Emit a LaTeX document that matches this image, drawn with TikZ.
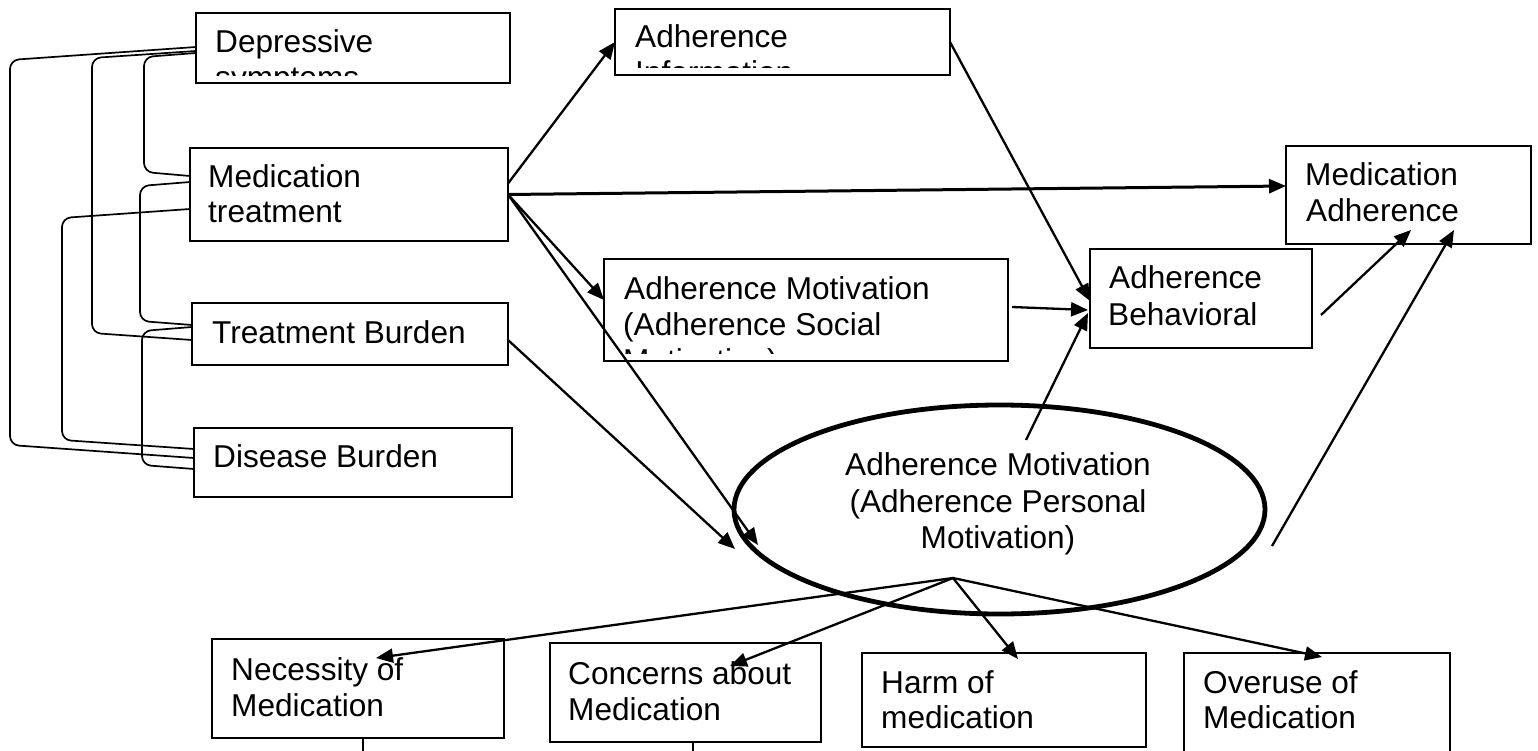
\documentclass[tikz,border=0pt]{standalone}
\usepackage{fontspec}
\setmainfont{Liberation Sans}
\usetikzlibrary{arrows.meta,calc,shapes.geometric}
\begin{document}
\begin{tikzpicture}[x=1pt,y=-1pt,
  box/.style={draw, line width=1.5pt, rectangle, inner sep=0pt, outer sep=0pt, anchor=north west},
  lbl/.style={anchor=base west, inner sep=0pt, font=\fontsize{31.6}{36}\selectfont},
  clbl/.style={anchor=base, inner sep=0pt, font=\fontsize{31.6}{36}\selectfont},
  arr/.style={line width=2.3pt, -{Triangle[length=17pt,width=14pt]}},
  brk/.style={line width=1.7pt, rounded corners=9pt},
  stub/.style={line width=1.7pt}]
\clip (0,0) rectangle (1538,751);
\fill[white] (0,0) rectangle (1538,751);

% boxes
\node[box, minimum width=314pt, minimum height=70pt] (dep) at (196,13) {};
\node[box, minimum width=318pt, minimum height=93pt] (medt) at (190,148) {};
\node[box, minimum width=316pt, minimum height=62pt] (tb) at (192,303) {};
\node[box, minimum width=318pt, minimum height=69pt] (db) at (194,428) {};
\node[box, minimum width=335pt, minimum height=66pt] (ainfo) at (615,9) {};
\node[box, minimum width=404pt, minimum height=102pt] (soc) at (604,259) {};
\node[box, minimum width=222pt, minimum height=99pt] (beh) at (1090,249) {};
\node[box, minimum width=245pt, minimum height=98pt] (madh) at (1286,146) {};
\node[box, minimum width=292pt, minimum height=99pt] (nec) at (212,639) {};
\node[box, minimum width=271pt, minimum height=99pt] (con) at (550,643) {};
\node[box, minimum width=284pt, minimum height=94pt] (harm) at (862,653) {};
\node[box, minimum width=266pt, minimum height=130pt] (over) at (1184,653) {};
\node[draw, ellipse, line width=4.8pt, minimum width=531pt, minimum height=209pt, inner sep=0pt] (ell) at (999.5,509.5) {};

% texts
\begin{scope}
\clip (dep.north west) rectangle ($(dep.south east)+(0,-7.5)$);
\node[lbl] (dep1) at (215,53) {Depressive};
\node[lbl] (dep2) at (215,89) {symptoms};
\end{scope}
\node[lbl] (medt1) at (208,188) {Medication};
\node[lbl] (medt2) at (208,223) {treatment};
\node[lbl] (tb1) at (212,343) {Treatment Burden};
\node[lbl] (db1) at (213,467) {Disease Burden};
\begin{scope}
\clip (ainfo.north west) rectangle ($(ainfo.south east)+(0,-7.5)$);
\node[lbl] (ainfo1) at (635,48) {Adherence};
\node[lbl] (ainfo2) at (635,84) {Information};
\end{scope}
\begin{scope}
\clip (soc.north west) rectangle ($(soc.south east)+(0,-8)$);
\node[lbl] (soc1) at (624,299) {Adherence Motivation};
\node[lbl] (soc2) at (623,335) {(Adherence Social};
\node[lbl] (soc3) at (623,371) {Motivation)};
\end{scope}
\node[lbl] (beh1) at (1109,288) {Adherence};
\node[lbl] (beh2) at (1108,325) {Behavioral};
\node[lbl] (madh1) at (1305,186) {Medication};
\node[lbl] (madh2) at (1306,222) {Adherence};
\node[clbl] (ell1) at (998,475) {Adherence Motivation};
\node[clbl] (ell2) at (998,512) {(Adherence Personal};
\node[clbl] (ell3) at (998,548) {Motivation)};
\node[lbl] (nec1) at (231,680) {Necessity of};
\node[lbl] (nec2) at (231,716) {Medication};
\node[lbl] (con1) at (568,684) {Concerns about};
\node[lbl] (con2) at (568,720) {Medication};
\node[lbl] (harm1) at (881,693) {Harm of};
\node[lbl] (harm2) at (881,728) {medication};
\node[lbl] (over1) at (1203,693) {Overuse of};
\node[lbl] (over2) at (1203,728) {Medication};

% left brackets
\draw[brk] (dep.west |- 0,47) -- (10,60) -- (10,445) -- (db.west |- 0,458);
\draw[brk] (dep.west |- 0,51) -- (92,58) -- (92,333) -- (tb.west |- 0,340);
\draw[brk] (dep.west |- 0,53) -- (144,57) -- (144,172) -- (medt.west |- 0,176);
\draw[brk] (medt.west |- 0,182) -- (140,186) -- (140,321) -- (tb.west |- 0,325);
\draw[brk] (medt.west |- 0,209) -- (62,218) -- (62,440) -- (db.west |- 0,449);
\draw[brk] (tb.west |- 0,327) -- (142,331) -- (142,465) -- (db.west |- 0,469);

% stubs under bottom boxes
\coordinate (necend) at (363,760);
\coordinate (conend) at (693,760);
\draw[stub] (nec.south -| necend) -- (necend);
\draw[stub] (con.south -| conend) -- (conend);

% arrows
\draw[arr] ([yshift=11pt]medt.east) -- (ainfo.west);
\draw[arr, line width=3pt] (medt.east) -- ([yshift=9pt]madh.west);
\draw[arr] (medt.east) -- ([yshift=10pt]soc.west);
\draw[arr] (medt.east) -- ($(ell.center)+(-241.5,35.5)$);
\draw[arr] ([yshift=-6pt]tb.east) -- ($(ell.center)+(-264.5,39.5)$);
\draw[arr] (ainfo.east) -- ([yshift=-2.5pt]beh.west);
\draw[arr] ([xshift=4pt,yshift=3pt]soc.east) -- ([xshift=-2pt,yshift=-11.5pt]beh.west);
\draw[arr] ($(ell.center)+(26.5,-69.5)$) -- ([xshift=-2pt,yshift=-14.5pt]beh.west);
\draw[arr] ([xshift=9pt,yshift=-16.5pt]beh.east) -- ($(madh.south west)+(125,-14)$);
\draw[arr] ($(ell.center)+(272.5,36.5)$) -- ($(madh.south west)+(168,-14)$);
\coordinate (apex) at ($(ell.center)+(-46.5,68.5)$);
\draw[arr] (apex) -- ($(nec.north west)+(164,19)$);
\draw[arr] (apex) -- ($(con.north west)+(180,23)$);
\draw[arr] (apex) -- ($(harm.north west)+(156,6)$);
\draw[arr] (apex) -- ($(over.north west)+(138,4)$);
\end{tikzpicture}
\end{document}
